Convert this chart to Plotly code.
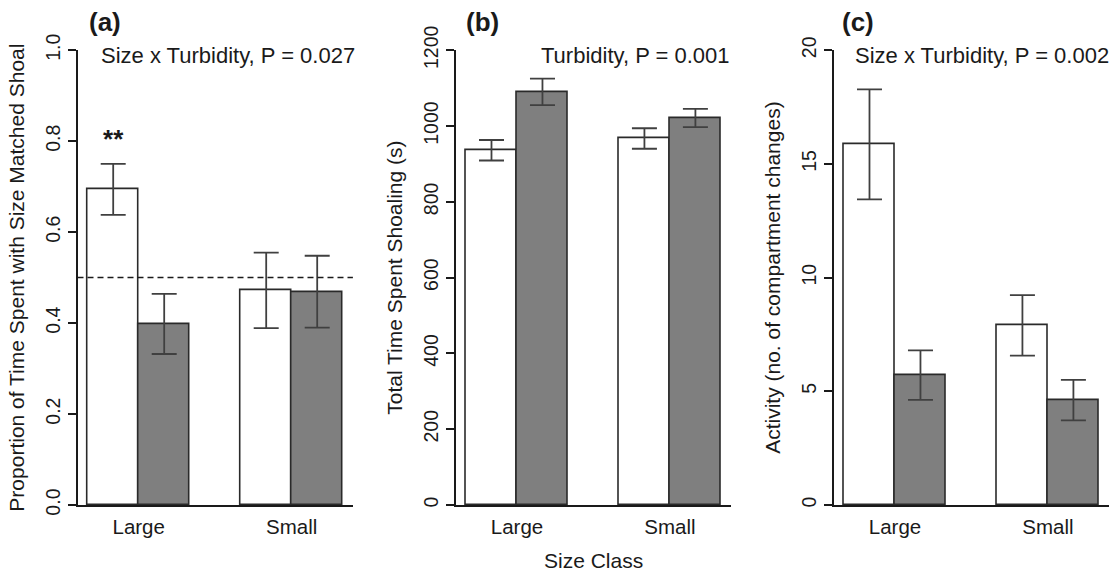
import plotly.graph_objects as go

# ---------------- data ----------------
size_classes = ["Large", "Small"]
treatments = ["Clear", "Turbid"]

# (a) proportion of time with size-matched shoal
prop_clear = [0.694, 0.472]
prop_clear_se = [0.056, 0.083]
prop_turbid = [0.398, 0.469]
prop_turbid_se = [0.066, 0.079]
prop_sig = ["<b>**</b>", ""]
prop_sig_y = [0.80, None]
prop_ref = 0.5

# (b) total time spent shoaling (s)
shoal_clear = [936, 967]
shoal_clear_se = [27, 27]
shoal_turbid = [1090, 1021]
shoal_turbid_se = [35, 24]

# (c) activity (no. of compartment changes)
act_clear = [15.86, 7.90]
act_clear_se = [2.42, 1.33]
act_turbid = [5.71, 4.61]
act_turbid_se = [1.09, 0.89]

panel_labels = ["(a)", "(b)", "(c)"]
stat_labels = ["Size x Turbidity, P = 0.027", "Turbidity, P = 0.001",
               "Size x Turbidity, P = 0.002"]
y_titles = ["Proportion of Time Spent with Size Matched Shoal",
            "Total Time Spent Shoaling (s)",
            "Activity (no. of compartment changes)"]
y_ranges = [[0, 1], [0, 1200], [0, 20]]
y_dticks = [0.2, 200, 5]
y_formats = [".1f", "d", "d"]
x_title = "Size Class"

# ---------------- layout helpers ----------------
W, H = 1116, 575
INK = "#1a1a1a"
FONT = "Liberation Sans, Arial, sans-serif"
fill_colors = {"Clear": "#ffffff", "Turbid": "#7f7f7f"}

x_domains = [[77.5 / W, 352.9 / W], [455.8 / W, 731.1 / W], [833.8 / W, 1109.1 / W]]
y_domain = [1 - 505 / H, 1 - 50.2 / H]

# bar positions (R barplot style: width 1, space c(0, 1))
clear_x = [1.5 + 3 * i for i in range(len(size_classes))]
turbid_x = [2.5 + 3 * i for i in range(len(size_classes))]
group_x = [2 + 3 * i for i in range(len(size_classes))]

panels = [
    (prop_clear, prop_clear_se, prop_turbid, prop_turbid_se),
    (shoal_clear, shoal_clear_se, shoal_turbid, shoal_turbid_se),
    (act_clear, act_clear_se, act_turbid, act_turbid_se),
]

fig = go.Figure()

for p, (cv, cse, tv, tse) in enumerate(panels):
    xa = "x" if p == 0 else f"x{p+1}"
    ya = "y" if p == 0 else f"y{p+1}"
    for name, xs, vals, se in (("Clear", clear_x, cv, cse), ("Turbid", turbid_x, tv, tse)):
        fig.add_trace(go.Bar(
            x=xs, y=vals, width=1, name=name, showlegend=False,
            marker=dict(color=fill_colors[name], line=dict(color="#2a2a2a", width=1.6)),
            error_y=dict(type="data", array=se, visible=True, color="#404040",
                         thickness=1.8, width=12.5),
            xaxis=xa, yaxis=ya, hoverinfo="skip",
        ))

# significance stars in panel a
fig.add_trace(go.Scatter(
    x=clear_x, y=prop_sig_y, text=prop_sig, mode="text",
    textfont=dict(size=26, color=INK, family=FONT), showlegend=False,
    xaxis="x", yaxis="y", hoverinfo="skip",
))

layout = dict(
    template="none",
    width=W, height=H, margin=dict(l=0, r=0, t=0, b=0, autoexpand=False),
    paper_bgcolor="white", plot_bgcolor="white",
    font=dict(family=FONT, color=INK),
    bargap=0, barmode="overlay", showlegend=False,
)

for p in range(3):
    xk = "xaxis" if p == 0 else f"xaxis{p+1}"
    yk = "yaxis" if p == 0 else f"yaxis{p+1}"
    ya = "y" if p == 0 else f"y{p+1}"
    xa = "x" if p == 0 else f"x{p+1}"
    layout[xk] = dict(
        domain=x_domains[p], anchor=ya, range=[0.8, 6.2], automargin=False,
        tickvals=group_x, ticktext=size_classes, ticks="", ticklabelstandoff=3,
        showline=True, linecolor=INK, linewidth=1.5,
        showgrid=False, zeroline=False, fixedrange=True,
        tickfont=dict(size=20.5, color=INK),
    )
    layout[yk] = dict(
        domain=y_domain, anchor=xa, range=y_ranges[p], dtick=y_dticks[p], tick0=0,
        tickformat=y_formats[p], tickangle=-90, automargin=False,
        ticks="outside", ticklen=8, tickwidth=1.5, tickcolor=INK,
        showline=True, linecolor=INK, linewidth=1.5,
        showgrid=False, zeroline=False, fixedrange=True,
        tickfont=dict(size=19.5, color=INK),
        title=dict(text=y_titles[p], font=dict(size=21, color=INK), standoff=12),
    )

fig.update_layout(**layout)

# reference line at 0.5 in panel a
fig.add_shape(type="line", xref="x domain", yref="y", x0=0, x1=1, y0=prop_ref, y1=prop_ref,
              line=dict(color=INK, width=1.5, dash="6px,4px"))

label_x = [104.5, 482, 858]
stat_x = [228.3, 635.3, 981.5]
for p in range(3):
    fig.add_annotation(text="<b>" + panel_labels[p] + "</b>", x=label_x[p] / W, y=1 - 22.5 / H,
                       xref="paper", yref="paper", showarrow=False,
                       xanchor="center", yanchor="middle",
                       font=dict(size=26, color=INK))
    fig.add_annotation(text=stat_labels[p], x=stat_x[p] / W, y=1 - 55.5 / H,
                       xref="paper", yref="paper", showarrow=False,
                       xanchor="center", yanchor="middle",
                       font=dict(size=22, color=INK))

fig.add_annotation(text=x_title, x=593.4 / W, y=1 - 560.5 / H, xref="paper", yref="paper",
                   showarrow=False, xanchor="center", yanchor="middle",
                   font=dict(size=21, color=INK))

fig.write_html("out.html", config={"displayModeBar": False},
               post_script="document.body.style.margin='0px';document.body.style.overflow='hidden';")
